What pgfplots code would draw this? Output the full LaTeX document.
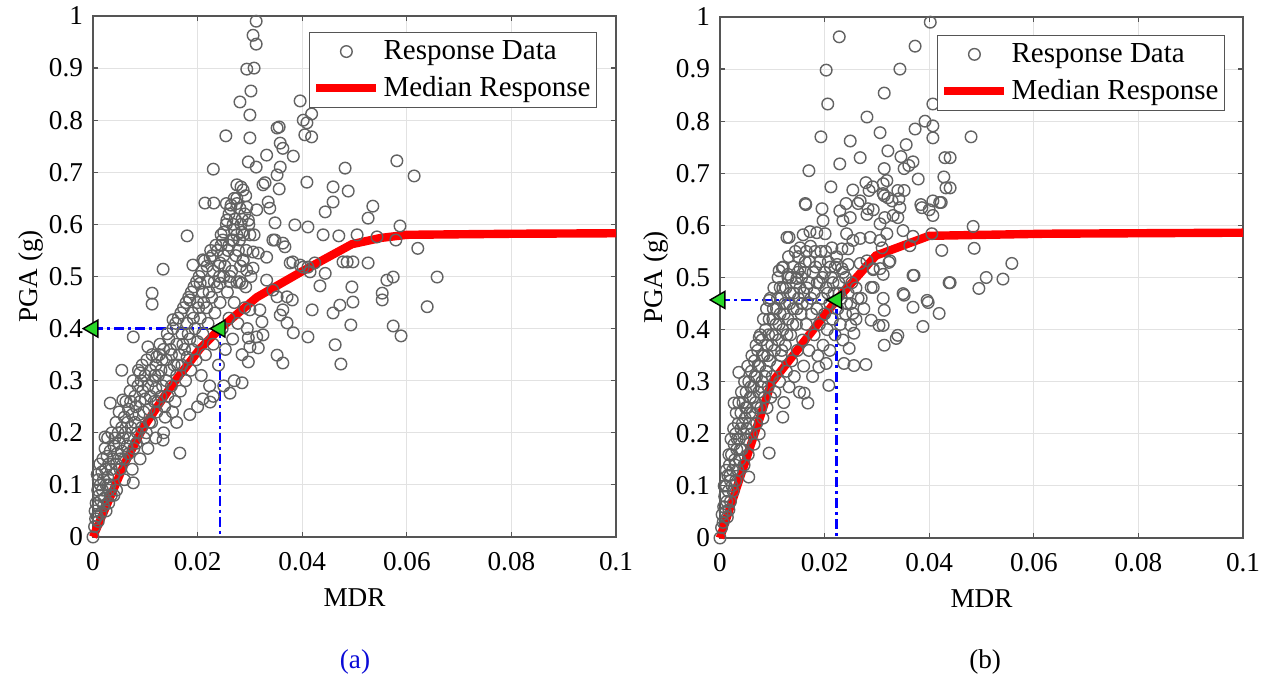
\documentclass[border=0pt]{standalone}
\usepackage{fontspec}
\setmainfont{Liberation Serif}
\usepackage{pgfplots}
\pgfplotsset{compat=1.18}
\usepackage{pgfplotstable}

\definecolor{ptgray}{RGB}{98,98,98}
\definecolor{boxgray}{RGB}{85,85,85}
\definecolor{gridgray}{RGB}{226,226,226}
\definecolor{medred}{RGB}{255,0,0}
\definecolor{guideblue}{RGB}{0,0,255}
\definecolor{markgreen}{RGB}{40,215,40}
\definecolor{caplblue}{RGB}{10,10,215}

% ---------- panel (a): response data ----------
\pgfplotstableread{
x y
0.0312 0.990
0.0306 0.963
0.0312 0.946
0.0294 0.898
0.0308 0.900
0.0302 0.856
0.0281 0.835
0.0300 0.810
0.0254 0.770
0.0300 0.766
0.0297 0.720
0.0312 0.710
0.0230 0.706
0.0214 0.641
0.0180 0.578
0.0134 0.514
0.0191 0.522
0.0332 0.733
0.0352 0.785
0.0356 0.787
0.0358 0.756
0.0363 0.746
0.0383 0.731
0.0352 0.695
0.0358 0.710
0.0329 0.680
0.0325 0.676
0.0356 0.668
0.0275 0.676
0.0283 0.672
0.0287 0.666
0.0292 0.655
0.0281 0.631
0.0294 0.633
0.0313 0.628
0.0338 0.631
0.0335 0.643
0.0348 0.603
0.0256 0.608
0.0268 0.600
0.0275 0.580
0.0285 0.585
0.0297 0.608
0.0348 0.570
0.0396 0.837
0.0402 0.800
0.0409 0.795
0.0418 0.812
0.0405 0.772
0.0418 0.768
0.0409 0.681
0.0386 0.599
0.0411 0.595
0.0367 0.557
0.0382 0.528
0.0402 0.518
0.0424 0.526
0.0306 0.547
0.0316 0.545
0.0332 0.537
0.0243 0.526
0.0224 0.535
0.0205 0.487
0.0243 0.487
0.0262 0.490
0.0113 0.468
0.0482 0.708
0.0459 0.672
0.0488 0.664
0.0459 0.643
0.0444 0.624
0.0535 0.635
0.0526 0.612
0.0581 0.722
0.0614 0.693
0.0440 0.580
0.0470 0.578
0.0505 0.580
0.0543 0.576
0.0587 0.597
0.0579 0.570
0.0621 0.554
0.0486 0.528
0.0497 0.528
0.0526 0.526
0.0415 0.509
0.0444 0.506
0.0434 0.482
0.0495 0.480
0.0562 0.493
0.0574 0.499
0.0553 0.468
0.0658 0.499
0.0419 0.436
0.0459 0.430
0.0472 0.445
0.0497 0.451
0.0639 0.442
0.0411 0.384
0.0493 0.407
0.0463 0.369
0.0474 0.332
0.0574 0.405
0.0589 0.386
0.0553 0.455
0.0113 0.447
0.0077 0.384
0.0055 0.320
0.0033 0.257
0.0023 0.192
0.0166 0.161
0.0297 0.336
0.0285 0.296
0.0262 0.276
0.0224 0.259
0.0352 0.349
0.0363 0.334
0.0316 0.363
0.0383 0.392
0.0371 0.411
0.0358 0.426
0.0363 0.436
0.0323 0.413
0.0325 0.388
0.0313 0.384
0.0297 0.382
0.0300 0.365
0.0287 0.532
0.0294 0.512
0.0306 0.516
0.0275 0.489
0.0285 0.487
0.0332 0.493
0.0344 0.474
0.0352 0.461
0.0371 0.461
0.0381 0.455
0.0300 0.436
0.0319 0.436
0.0377 0.526
0.0396 0.522
0.0411 0.518
0.0478 0.528
0.0344 0.570
0.0363 0.564
0.0105 0.365
0.0185 0.455
0.0231 0.641
0.0264 0.637
0.0245 0.560
0.0260 0.620
0.0255 0.640
0.0270 0.650
0.0250 0.585
0.0265 0.570
0.0275 0.640
0.0285 0.610
0.0000 0.000
0.0003 0.020
0.0005 0.035
0.0004 0.050
0.0008 0.040
0.0006 0.065
0.0010 0.060
0.0012 0.080
0.0009 0.090
0.0015 0.070
0.0014 0.100
0.0018 0.090
0.0020 0.110
0.0017 0.125
0.0022 0.075
0.0025 0.100
0.0024 0.130
0.0028 0.115
0.0030 0.140
0.0027 0.155
0.0032 0.100
0.0035 0.130
0.0033 0.165
0.0038 0.150
0.0040 0.120
0.0040 0.175
0.0042 0.190
0.0045 0.140
0.0046 0.160
0.0048 0.200
0.0050 0.180
0.0052 0.130
0.0055 0.165
0.0055 0.210
0.0058 0.190
0.0060 0.230
0.0060 0.150
0.0062 0.200
0.0065 0.175
0.0066 0.220
0.0068 0.245
0.0070 0.190
0.0072 0.260
0.0073 0.210
0.0075 0.235
0.0078 0.170
0.0080 0.220
0.0080 0.270
0.0082 0.250
0.0085 0.200
0.0086 0.290
0.0088 0.235
0.0090 0.260
0.0092 0.300
0.0093 0.210
0.0095 0.280
0.0097 0.240
0.0100 0.310
0.0100 0.265
0.0102 0.200
0.0105 0.290
0.0107 0.245
0.0110 0.320
0.0110 0.270
0.0112 0.220
0.0115 0.300
0.0117 0.260
0.0120 0.330
0.0120 0.285
0.0122 0.240
0.0125 0.310
0.0127 0.350
0.0130 0.270
0.0130 0.320
0.0133 0.290
0.0135 0.360
0.0137 0.250
0.0140 0.340
0.0140 0.300
0.0143 0.270
0.0145 0.380
0.0147 0.320
0.0150 0.350
0.0150 0.290
0.0153 0.400
0.0155 0.330
0.0157 0.260
0.0160 0.370
0.0160 0.310
0.0163 0.420
0.0165 0.350
0.0167 0.280
0.0170 0.390
0.0170 0.330
0.0173 0.440
0.0175 0.360
0.0177 0.300
0.0180 0.410
0.0180 0.345
0.0183 0.460
0.0185 0.380
0.0187 0.320
0.0190 0.430
0.0190 0.360
0.0193 0.480
0.0195 0.400
0.0197 0.340
0.0200 0.450
0.0200 0.375
0.0203 0.500
0.0205 0.420
0.0207 0.310
0.0210 0.470
0.0210 0.390
0.0213 0.530
0.0215 0.350
0.0217 0.440
0.0220 0.490
0.0220 0.410
0.0223 0.290
0.0225 0.550
0.0227 0.460
0.0230 0.370
0.0230 0.510
0.0233 0.430
0.0235 0.560
0.0237 0.480
0.0240 0.330
0.0240 0.520
0.0243 0.450
0.0245 0.580
0.0247 0.400
0.0250 0.500
0.0250 0.540
0.0253 0.360
0.0255 0.600
0.0257 0.470
0.0260 0.560
0.0260 0.420
0.0263 0.630
0.0265 0.510
0.0267 0.380
0.0270 0.590
0.0270 0.450
0.0273 0.540
0.0275 0.650
0.0277 0.410
0.0280 0.570
0.0280 0.490
0.0283 0.600
0.0285 0.350
0.0287 0.530
0.0290 0.620
0.0290 0.440
0.0293 0.550
0.0295 0.400
0.0300 0.580
0.0120 0.190
0.0135 0.200
0.0160 0.220
0.0185 0.235
0.0200 0.250
0.0210 0.265
0.0230 0.270
0.0250 0.290
0.0270 0.300
0.0090 0.150
0.0075 0.130
0.0060 0.110
0.0045 0.090
0.0030 0.065
0.0040 0.080
0.0105 0.170
0.0057 0.263
0.0090 0.315
0.0122 0.346
0.0153 0.417
0.0210 0.532
0.0077 0.104
0.0134 0.186
0.0010 0.030
0.0015 0.045
0.0020 0.060
0.0025 0.050
0.0030 0.090
0.0035 0.080
0.0010 0.110
0.0013 0.140
0.0008 0.120
0.0019 0.150
0.0023 0.170
0.0028 0.190
0.0036 0.200
0.0044 0.220
0.0050 0.240
0.0053 0.150
0.0063 0.260
0.0068 0.160
0.0071 0.280
0.0077 0.300
0.0083 0.180
0.0087 0.320
0.0094 0.330
0.0098 0.190
0.0103 0.340
0.0108 0.220
0.0113 0.350
0.0118 0.310
0.0124 0.260
0.0128 0.370
0.0132 0.340
0.0138 0.230
0.0142 0.390
0.0148 0.360
0.0152 0.240
0.0158 0.410
0.0162 0.330
0.0168 0.430
0.0172 0.370
0.0178 0.450
0.0182 0.390
0.0188 0.470
0.0192 0.420
0.0198 0.490
0.0202 0.440
0.0208 0.510
0.0212 0.450
0.0218 0.520
0.0222 0.470
0.0228 0.540
0.0232 0.490
0.0238 0.550
0.0242 0.500
0.0248 0.570
0.0252 0.520
0.0258 0.550
0.0262 0.500
0.0268 0.570
0.0272 0.610
0.0278 0.550
0.0282 0.520
0.0288 0.580
0.0292 0.480
0.0298 0.600
0.0302 0.500
0.0308 0.580
}\dataA

% ---------- panel (b): response data ----------
\pgfplotstableread{
x y
0.0402 0.990
0.0228 0.962
0.0373 0.944
0.0203 0.898
0.0344 0.900
0.0314 0.854
0.0206 0.833
0.0407 0.833
0.0281 0.808
0.0392 0.800
0.0407 0.791
0.0407 0.768
0.0373 0.785
0.0306 0.778
0.0193 0.770
0.0249 0.762
0.0480 0.770
0.0356 0.755
0.0321 0.743
0.0268 0.730
0.0346 0.732
0.0369 0.722
0.0361 0.715
0.0352 0.709
0.0314 0.709
0.0229 0.718
0.0170 0.705
0.0430 0.730
0.0428 0.693
0.0432 0.672
0.0379 0.689
0.0212 0.674
0.0279 0.682
0.0292 0.674
0.0285 0.667
0.0312 0.680
0.0254 0.668
0.0340 0.667
0.0352 0.667
0.0163 0.642
0.0195 0.632
0.0314 0.657
0.0342 0.651
0.0423 0.644
0.0384 0.640
0.0400 0.630
0.0241 0.642
0.0264 0.642
0.0283 0.632
0.0128 0.577
0.0159 0.582
0.0172 0.588
0.0185 0.586
0.0153 0.557
0.0165 0.550
0.0119 0.519
0.0130 0.506
0.0115 0.481
0.0147 0.498
0.0153 0.517
0.0197 0.609
0.0201 0.584
0.0214 0.557
0.0229 0.628
0.0235 0.609
0.0249 0.615
0.0242 0.584
0.0254 0.571
0.0233 0.555
0.0245 0.555
0.0224 0.525
0.0233 0.517
0.0245 0.525
0.0268 0.647
0.0281 0.621
0.0293 0.630
0.0268 0.575
0.0287 0.577
0.0306 0.571
0.0310 0.557
0.0268 0.527
0.0281 0.532
0.0293 0.515
0.0306 0.517
0.0312 0.506
0.0293 0.481
0.0325 0.532
0.0306 0.603
0.0315 0.615
0.0319 0.584
0.0331 0.619
0.0340 0.615
0.0344 0.634
0.0319 0.686
0.0312 0.661
0.0321 0.653
0.0329 0.647
0.0350 0.590
0.0363 0.561
0.0369 0.504
0.0350 0.469
0.0386 0.634
0.0407 0.647
0.0407 0.619
0.0420 0.644
0.0424 0.552
0.0405 0.584
0.0440 0.490
0.0396 0.456
0.0484 0.598
0.0486 0.556
0.0440 0.730
0.0440 0.672
0.0558 0.527
0.0509 0.500
0.0541 0.497
0.0495 0.479
0.0438 0.490
0.0371 0.504
0.0352 0.466
0.0369 0.443
0.0398 0.452
0.0419 0.431
0.0388 0.406
0.0312 0.460
0.0314 0.437
0.0304 0.408
0.0312 0.408
0.0340 0.389
0.0337 0.383
0.0314 0.370
0.0256 0.393
0.0247 0.364
0.0237 0.335
0.0256 0.331
0.0279 0.333
0.0208 0.293
0.0189 0.328
0.0203 0.335
0.0289 0.418
0.0289 0.481
0.0293 0.517
0.0323 0.529
0.0254 0.431
0.0250 0.408
0.0168 0.259
0.0161 0.278
0.0369 0.579
0.0036 0.318
0.0027 0.259
0.0094 0.163
0.0164 0.640
0.0132 0.577
0.0113 0.513
0.0000 0.000
0.0003 0.020
0.0004 0.045
0.0006 0.030
0.0007 0.060
0.0009 0.080
0.0010 0.050
0.0012 0.100
0.0013 0.070
0.0015 0.120
0.0016 0.090
0.0018 0.140
0.0020 0.110
0.0020 0.070
0.0022 0.160
0.0024 0.130
0.0025 0.090
0.0027 0.180
0.0028 0.150
0.0030 0.110
0.0030 0.200
0.0032 0.170
0.0034 0.130
0.0035 0.220
0.0037 0.190
0.0038 0.150
0.0040 0.240
0.0040 0.210
0.0042 0.170
0.0044 0.260
0.0045 0.200
0.0046 0.140
0.0048 0.230
0.0050 0.280
0.0050 0.190
0.0052 0.250
0.0054 0.160
0.0055 0.300
0.0056 0.220
0.0058 0.270
0.0060 0.200
0.0060 0.320
0.0062 0.240
0.0064 0.290
0.0065 0.180
0.0066 0.340
0.0068 0.260
0.0070 0.310
0.0070 0.220
0.0072 0.360
0.0074 0.280
0.0075 0.200
0.0076 0.330
0.0078 0.250
0.0080 0.380
0.0080 0.300
0.0082 0.230
0.0084 0.350
0.0085 0.270
0.0087 0.400
0.0088 0.320
0.0090 0.250
0.0090 0.370
0.0092 0.290
0.0094 0.420
0.0095 0.340
0.0097 0.270
0.0100 0.390
0.0100 0.310
0.0102 0.440
0.0104 0.360
0.0105 0.280
0.0107 0.410
0.0110 0.330
0.0110 0.460
0.0112 0.380
0.0114 0.300
0.0115 0.430
0.0117 0.350
0.0120 0.480
0.0120 0.400
0.0122 0.260
0.0124 0.450
0.0125 0.370
0.0127 0.320
0.0130 0.500
0.0130 0.420
0.0132 0.290
0.0134 0.470
0.0135 0.390
0.0137 0.340
0.0140 0.440
0.0140 0.520
0.0142 0.310
0.0145 0.490
0.0146 0.410
0.0148 0.360
0.0150 0.460
0.0150 0.540
0.0152 0.280
0.0155 0.430
0.0156 0.500
0.0158 0.380
0.0160 0.470
0.0160 0.330
0.0163 0.530
0.0165 0.410
0.0167 0.450
0.0170 0.360
0.0170 0.490
0.0173 0.560
0.0175 0.430
0.0177 0.310
0.0180 0.470
0.0180 0.390
0.0183 0.520
0.0185 0.440
0.0187 0.350
0.0190 0.490
0.0190 0.410
0.0193 0.550
0.0195 0.460
0.0197 0.370
0.0200 0.510
0.0200 0.430
0.0203 0.480
0.0205 0.400
0.0207 0.530
0.0210 0.450
0.0210 0.360
0.0213 0.500
0.0215 0.420
0.0218 0.470
0.0220 0.390
0.0220 0.520
0.0225 0.440
0.0227 0.490
0.0230 0.410
0.0232 0.460
0.0235 0.380
0.0240 0.500
0.0240 0.430
0.0245 0.470
0.0250 0.450
0.0260 0.480
0.0260 0.420
0.0270 0.460
0.0275 0.440
0.0017 0.054
0.0055 0.117
0.0120 0.232
0.0075 0.385
0.0094 0.456
0.0008 0.100
0.0012 0.130
0.0014 0.040
0.0017 0.160
0.0019 0.120
0.0021 0.190
0.0023 0.100
0.0026 0.210
0.0029 0.140
0.0031 0.240
0.0033 0.190
0.0036 0.260
0.0039 0.170
0.0041 0.280
0.0043 0.220
0.0047 0.300
0.0049 0.250
0.0051 0.210
0.0053 0.330
0.0057 0.240
0.0059 0.290
0.0061 0.350
0.0063 0.270
0.0067 0.310
0.0069 0.370
0.0071 0.250
0.0073 0.330
0.0077 0.390
0.0079 0.290
0.0081 0.350
0.0083 0.420
0.0086 0.310
0.0089 0.440
0.0091 0.350
0.0093 0.390
0.0096 0.460
0.0099 0.370
0.0101 0.420
0.0103 0.480
0.0106 0.390
0.0108 0.440
0.0111 0.500
0.0113 0.410
0.0116 0.460
0.0118 0.360
0.0121 0.520
0.0123 0.430
0.0126 0.480
0.0128 0.390
0.0131 0.540
0.0133 0.450
0.0136 0.500
0.0139 0.410
0.0141 0.470
0.0144 0.550
0.0147 0.440
0.0149 0.510
0.0153 0.480
0.0157 0.450
0.0162 0.510
0.0166 0.480
0.0171 0.530
0.0174 0.460
0.0178 0.510
0.0182 0.550
0.0186 0.490
0.0191 0.530
0.0196 0.500
0.0202 0.550
0.0206 0.470
0.0211 0.520
0.0216 0.490
0.0223 0.540
0.0228 0.470
0.0236 0.510
0.0242 0.450
0.0252 0.490
0.0264 0.460
}\dataB

% ---------- median response curves ----------
\pgfplotstableread{
x y
0.0000 0.000
0.0030 0.070
0.0060 0.140
0.0096 0.210
0.0150 0.290
0.0205 0.362
0.0243 0.400
0.0313 0.460
0.0400 0.510
0.0495 0.562
0.0550 0.574
0.0600 0.580
0.0800 0.582
0.1000 0.583
}\medA

\pgfplotstableread{
x y
0.0000 0.000
0.0098 0.297
0.0223 0.457
0.0298 0.542
0.0400 0.580
0.0623 0.584
0.1000 0.586
}\medB

\newcommand{\figfont}{\fontsize{13.6bp}{16bp}\selectfont}
\newcommand{\legfont}{\fontsize{14.5bp}{16bp}\selectfont}

\pgfplotsset{
  mdrpanel/.style={
    scale only axis, width=261.5bp, height=260.5bp,
    xmin=0, xmax=0.1, ymin=0, ymax=1,
    xtick={0,0.02,0.04,0.06,0.08,0.1},
    ytick={0,0.1,0.2,0.3,0.4,0.5,0.6,0.7,0.8,0.9,1},
    scaled ticks=false,
    xticklabel style={/pgf/number format/fixed, /pgf/number format/precision=2, yshift=-4bp},
    yticklabel style={/pgf/number format/fixed, /pgf/number format/precision=1, xshift=-1.5bp},
    /pgf/number format/assume math mode=true,
    tick align=inside, major tick length=2.5bp,
    xtick pos=both, ytick pos=both,
    grid=major, grid style={gridgray, line width=0.5bp},
    axis line style={boxgray, line width=0.6bp},
    every tick/.style={boxgray, line width=0.6bp},
    tick label style={font=\figfont, black},
    label style={font=\figfont},
    xlabel=MDR, ylabel={PGA (g)},
    xlabel style={at={(axis description cs:0.5,-0.117)}, anchor=center},
    clip=false,
    legend cell align=left,
    legend style={anchor=north east, draw=boxgray, line width=0.6bp,
      fill=white, font=\legfont, inner xsep=1.5bp, inner ysep=2.4bp,
      row sep=4bp, nodes={inner xsep=1.5bp, inner ysep=1.5bp}},
  },
  datapts/.style={only marks, mark=o, mark size=2.9bp,
    mark options={ptgray, line width=0.7bp},
    legend image code/.code={\draw[mark repeat=2, mark phase=2, ##1]
      plot coordinates {(0bp,0bp) (15bp,0bp) (30bp,0bp)};}},
  medline/.style={medred, line width=4.2bp,
    legend image code/.code={\draw[##1] (0bp,0bp) -- (30bp,0bp);}},
  guide/.style={guideblue, line width=1.4bp,
    dash pattern=on 5bp off 2bp on 1.5bp off 2bp, forget plot},
  hit/.style={only marks, mark=triangle*, mark size=4.9bp,
    mark options={rotate=90, fill=markgreen, draw=black, line width=0.7bp},
    forget plot},
}

\begin{document}
\begin{tikzpicture}
\useasboundingbox (0,0) rectangle (635bp,340.5bp);

\begin{axis}[mdrpanel, at={(46.5bp,72bp)}, anchor=south west,
  ylabel style={at={(axis description cs:-0.118,0.5)}, anchor=center},
  legend style={at={(0.964,0.969)}}]
  \addplot[datapts] table {\dataA};
  \addlegendentry{Response Data}
  \addplot[medline] table {\medA};
  \addlegendentry{Median Response}
  \addplot[guide] coordinates {(0,0.4) (0.0243,0.4) (0.0243,0)};
  \addplot[hit] coordinates {(0,0.4) (0.0243,0.4)};
  \node[font=\figfont, text=caplblue] at (axis description cs:0.501,-0.24) {(a)};
\end{axis}

\begin{axis}[mdrpanel, at={(360bp,71.5bp)}, anchor=south west,
  ylabel style={at={(axis description cs:-0.122,0.5)}, anchor=center},
  legend style={at={(0.966,0.9655)}}]
  \addplot[datapts] table {\dataB};
  \addlegendentry{Response Data}
  \addplot[medline] table {\medB};
  \addlegendentry{Median Response}
  \addplot[guide] coordinates {(0,0.457) (0.0223,0.457) (0.0223,0)};
  \addplot[hit] coordinates {(0,0.457) (0.0223,0.457)};
  \node[font=\figfont] at (axis description cs:0.507,-0.2375) {(b)};
\end{axis}
\end{tikzpicture}
\end{document}
